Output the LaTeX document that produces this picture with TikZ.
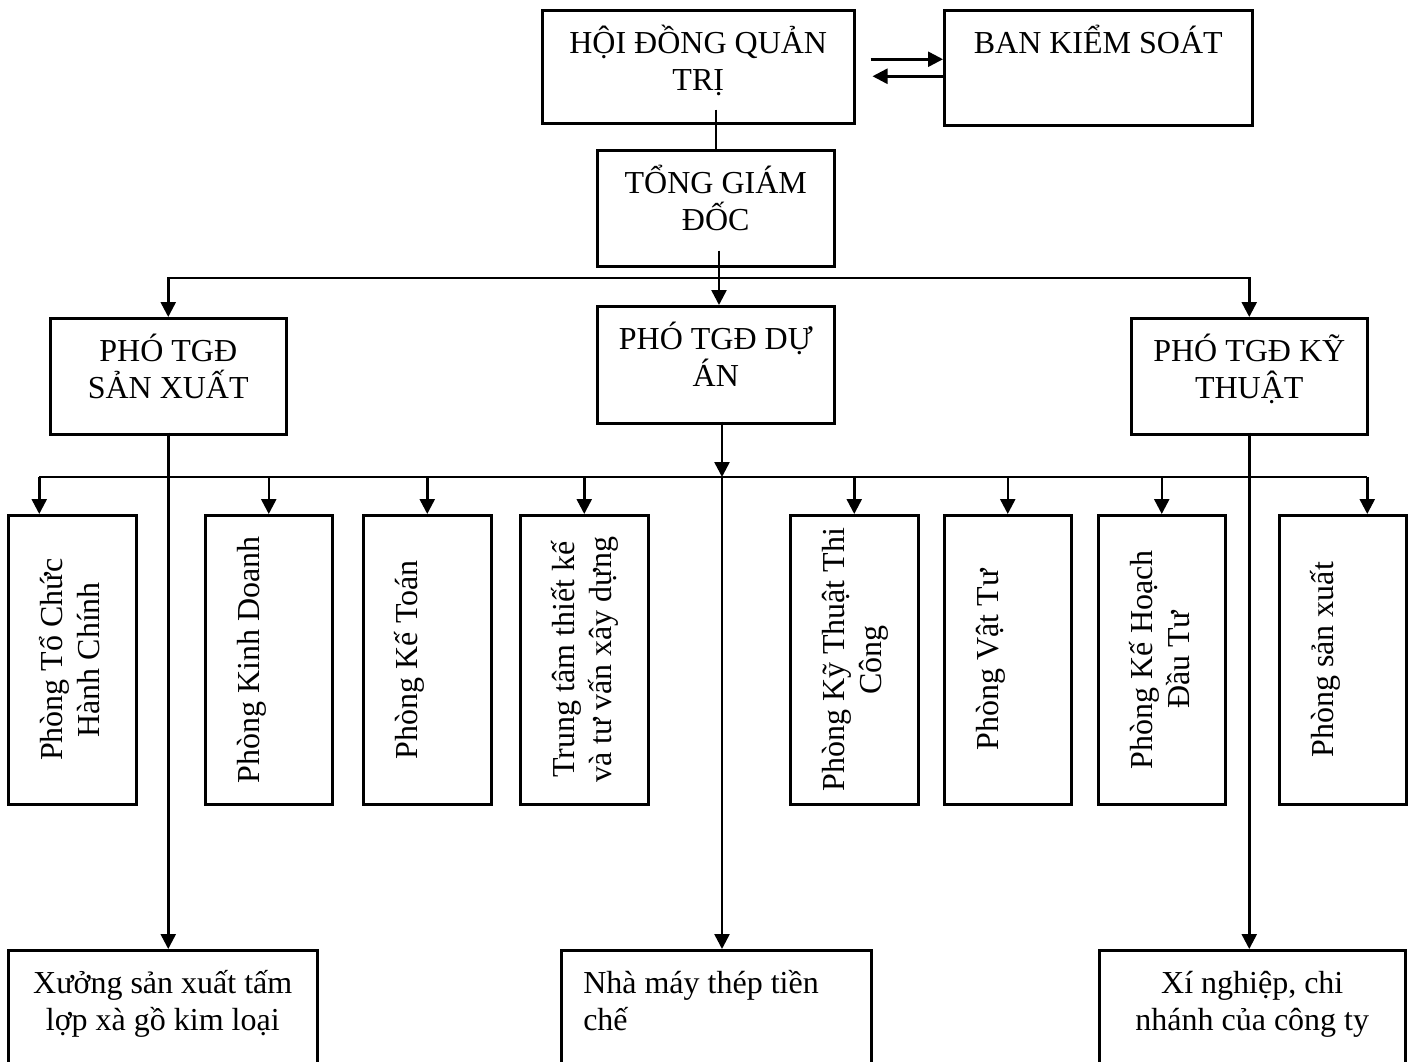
\documentclass[tikz,border=0pt]{standalone}
\usepackage{fontspec}
\setmainfont{Liberation Serif}
\usetikzlibrary{arrows.meta,positioning,calc}

\begin{document}
\begin{tikzpicture}[x=1pt,y=-1pt,>={Triangle[length=15pt,width=15pt]},
  box/.style={draw,line width=2.5pt,anchor=north west,inner sep=0pt},
  htx/.style={font=\fontsize{32}{37}\selectfont,align=flush center,text width=300pt,
              inner sep=0pt,anchor=base,yshift=-44pt},
  vtx/.style={font=\fontsize{32}{37}\selectfont,align=flush center,text width=300pt,
              inner sep=0pt,anchor=base,xshift=55pt,rotate=90},
  ln/.style={line width=2.5pt},
  arr/.style={->,line width=2.5pt}]
  \clip (0,0) rectangle (1413,1061);
  % upper levels
  \node[box,minimum width=312pt,minimum height=113pt,
        label={[htx]north:{HỘI ĐỒNG QUẢN\\TRỊ}}] (hdqt) at (541,9) {};
  \node[box,minimum width=308pt,minimum height=115pt,
        label={[htx]north:{BAN KIỂM SOÁT}}] (bks) at (943,9) {};
  \node[box,minimum width=237pt,minimum height=116pt,
        label={[htx]north:{TỔNG GIÁM\\ĐỐC}}] (tgd) at (596,149) {};
  \node[box,minimum width=236pt,minimum height=116pt,
        label={[htx]north:{PHÓ TGĐ\\SẢN XUẤT}}] (psx) at (49,317) {};
  \node[box,minimum width=237pt,minimum height=117pt,
        label={[htx]north:{PHÓ TGĐ DỰ\\ÁN}}] (pda) at (596,305) {};
  \node[box,minimum width=236pt,minimum height=116pt,
        label={[htx]north:{PHÓ TGĐ KỸ\\THUẬT}}] (pkt) at (1130,317) {};
  % departments
  \node[box,minimum width=128pt,minimum height=289pt,
        label={[vtx]west:{Phòng Tổ Chức\\Hành Chính}}] (v1) at (7,514) {};
  \node[box,minimum width=127pt,minimum height=289pt,
        label={[vtx]west:{Phòng Kinh Doanh}}] (v2) at (204,514) {};
  \node[box,minimum width=128pt,minimum height=289pt,
        label={[vtx]west:{Phòng Kế Toán}}] (v3) at (362,514) {};
  \node[box,minimum width=128pt,minimum height=289pt,
        label={[vtx]west:{Trung tâm thiết kế\\và tư vấn xây dựng}}] (v4) at (519,514) {};
  \node[box,minimum width=128pt,minimum height=289pt,
        label={[vtx]west:{Phòng Kỹ Thuật Thi\\Công}}] (v5) at (789,514) {};
  \node[box,minimum width=127pt,minimum height=289pt,
        label={[vtx]west:{Phòng Vật Tư}}] (v6) at (943,514) {};
  \node[box,minimum width=127pt,minimum height=289pt,
        label={[vtx]west:{Phòng Kế Hoạch\\Đầu Tư}}] (v7) at (1097,514) {};
  \node[box,minimum width=127pt,minimum height=289pt,
        label={[vtx]west:{Phòng sản xuất}}] (v8) at (1278,514) {};
  % units
  \node[box,minimum width=309pt,minimum height=160pt,
        label={[htx]north:{Xưởng sản xuất tấm\\lợp xà gồ kim loại}}] (xuong) at (7,949) {};
  \node[box,minimum width=310pt,minimum height=160pt,
        label={[htx,text width=266pt,align=flush left]north:{Nhà máy thép tiền\\chế}}] (nm) at (560,949) {};
  \node[box,minimum width=306pt,minimum height=160pt,
        label={[htx]north:{Xí nghiệp, chi\\nhánh của công ty}}] (xn) at (1098,949) {};
  \coordinate (bus1) at (719,278);
  \coordinate (bus2) at (722,477);
  % connectors
  \draw[arr] ([xshift=15pt,yshift=7.5pt]hdqt.east) -- ([yshift=7.5pt]hdqt.east -| bks.west);
  \draw[arr] ([yshift=-8.5pt]bks.west) -- ([xshift=17pt,yshift=-8.5pt]bks.west -| hdqt.east);
  \draw[ln] ([yshift=15pt]hdqt.south -| tgd.north) -- (tgd.north);
  \draw[ln] ([yshift=17pt]tgd.south -| bus1) -- (bus1);
  \draw[<->,line width=2.5pt] (psx.north) -- (psx.north |- bus1) -- (pkt.north |- bus1) -- (pkt.north);
  \draw[arr] (bus1) -- (bus1 |- pda.north);
  \draw[ln] ([xshift=-33pt]v1.north |- bus2) -- ([xshift=24.5pt]v8.north |- bus2);
  \draw[arr] ([xshift=-33pt]v1.north |- bus2) -- ([xshift=-33pt]v1.north);
  \draw[arr] (v2.north |- bus2) -- (v2.north);
  \draw[arr] (v3.north |- bus2) -- (v3.north);
  \draw[arr] (v4.north |- bus2) -- (v4.north);
  \draw[arr] (v5.north |- bus2) -- (v5.north);
  \draw[arr] (v6.north |- bus2) -- (v6.north);
  \draw[arr] (v7.north |- bus2) -- (v7.north);
  \draw[arr] ([xshift=24.5pt]v8.north |- bus2) -- ([xshift=24.5pt]v8.north);
  \draw[arr] ([yshift=3pt]psx.south) -- (psx.south |- xuong.north);
  \draw[arr] ([yshift=3pt]pda.south -| bus2) -- (bus2);
  \draw[arr] (bus2) -- (bus2 |- nm.north);
  \draw[arr] ([yshift=3pt]pkt.south) -- (pkt.south |- xn.north);
\end{tikzpicture}
\end{document}
